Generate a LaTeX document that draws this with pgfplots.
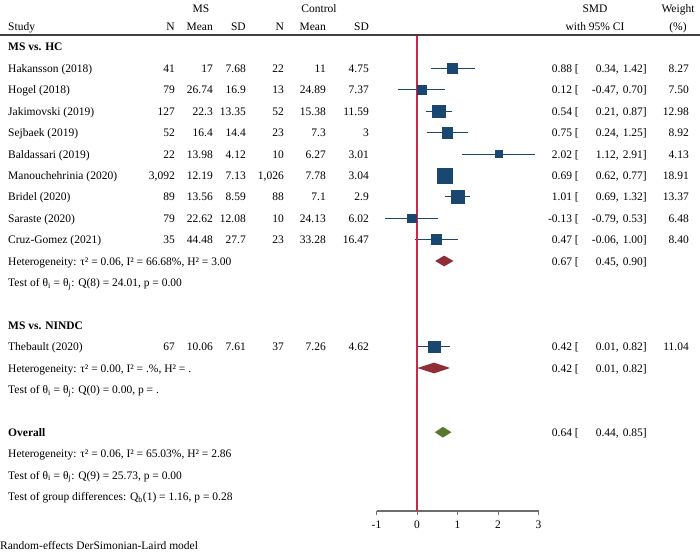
\documentclass[border=0pt]{standalone}
\usepackage{fontspec}
\setmainfont{Liberation Serif}
\usepackage{pgfplots}
\pgfplotsset{compat=1.18}
\usepackage{pgfplotstable}

\definecolor{navyb}{RGB}{26,71,111}
\definecolor{maroonD}{RGB}{144,45,55}
\definecolor{greenD}{RGB}{85,120,45}
\definecolor{nullred}{RGB}{205,40,75}
\definecolor{axisgray}{RGB}{110,110,110}

% row: row position (from top), est, CI, weight (%)
\pgfplotstableread{
row est lo hi w
1 0.88 0.34 1.42 8.27
2 0.12 -0.47 0.70 7.50
3 0.54 0.21 0.87 12.98
4 0.75 0.24 1.25 8.92
5 2.02 1.12 2.91 4.13
6 0.69 0.62 0.77 18.91
7 1.01 0.69 1.32 13.37
8 -0.13 -0.79 0.53 6.48
9 0.47 -0.06 1.00 8.40
14 0.42 0.01 0.82 11.04
}\studies

% text baseline = row centre + 4
\newcommand{\TL}[3]{\node[anchor=base west,inner sep=0pt] at (#1pt,{-(51+21.4*(#2))*1pt}) {#3};}
\newcommand{\TR}[3]{\node[anchor=base east,inner sep=0pt] at (#1pt,{-(51+21.4*(#2))*1pt}) {#3};}
\newcommand{\TC}[3]{\node[anchor=base,inner sep=0pt] at (#1pt,{-(51+21.4*(#2))*1pt}) {#3};}
\newcommand{\studyL}[8]{\TL{8}{#1}{#2}\TR{175}{#1}{#3}\TR{213}{#1}{#4}\TR{246}{#1}{#5}\TR{284}{#1}{#6}\TR{326}{#1}{#7}\TR{369}{#1}{#8}}
\newcommand{\studyR}[5]{\TR{579}{#1}{#2 [}\TR{619}{#1}{#3,}\TR{647}{#1}{#4]}\TR{689}{#1}{#5}}

\begin{document}
\fontsize{11.5}{13}\selectfont
\begin{tikzpicture}
\useasboundingbox (0,0) rectangle (700pt,-551pt);
\begin{axis}[
  at={(376.5pt,-511pt)}, anchor=south west,
  scale only axis, width=162pt, height=476pt,
  xmin=-1, xmax=3, ymin=-21.682, ymax=0.561,
  axis x line*=bottom, hide y axis,
  x axis line style={draw=none},
  xtick={-1,0,1,2,3}, xticklabels={-1,0,1,2,3},
  tick align=outside, major tick length=3.5pt,
  xtick style={draw=axisgray, line width=0.9pt},
  xticklabel style={font=\fontsize{11.5}{13}\selectfont, text=black, inner sep=2pt, yshift=-4pt},
  clip=false,
]
% x axis line
\addplot[color=axisgray, line width=1.5pt, mark=none] coordinates {(-1,-21.682) (3,-21.682)};
% confidence intervals
\addplot[color=navyb, line width=0.9pt, mark=none, unbounded coords=jump] coordinates {
(0.34,-1) (1.42,-1) (nan,nan)
(-0.47,-2) (0.70,-2) (nan,nan)
(0.21,-3) (0.87,-3) (nan,nan)
(0.24,-4) (1.25,-4) (nan,nan)
(1.12,-5) (2.91,-5) (nan,nan)
(0.62,-6) (0.77,-6) (nan,nan)
(0.69,-7) (1.32,-7) (nan,nan)
(-0.79,-8) (0.53,-8) (nan,nan)
(-0.06,-9) (1.00,-9) (nan,nan)
(0.01,-14) (0.82,-14)
};
% study squares, size by weight
\addplot[scatter, only marks, mark=square*,
  scatter/use mapped color={draw=navyb, fill=navyb},
  visualization depends on={1.75*sqrt(\thisrow{w}) \as \msz},
  scatter/@pre marker code/.append style={/tikz/mark size=\msz, /tikz/line width=0pt}]
  table[x=est, y expr=-\thisrow{row}] {\studies};
% subgroup diamonds
\addplot[fill=maroonD, draw=none] coordinates {(0.45,-10) (0.67,-9.75) (0.90,-10) (0.67,-10.25)} -- cycle;
\addplot[fill=maroonD, draw=none] coordinates {(0.01,-15) (0.42,-14.75) (0.82,-15) (0.42,-15.25)} -- cycle;
% overall diamond
\addplot[fill=greenD, draw=none] coordinates {(0.44,-18) (0.64,-17.75) (0.85,-18) (0.64,-18.25)} -- cycle;
% null line
\addplot[color=nullred, line width=1.2pt, mark=none] coordinates {(0,0.561) (0,-21.682)};
\end{axis}

\draw[line width=1.2pt, black!75] (0,-35pt) -- (700pt,-35pt);

% headers
\TC{201}{-1.776}{MS}
\TC{319}{-1.776}{Control}
\TC{595}{-1.776}{SMD}
\TC{678}{-1.776}{Weight}
\TL{8}{-0.981}{Study}
\TR{175}{-0.981}{N}\TR{213}{-0.981}{Mean}\TR{246}{-0.981}{SD}
\TR{284}{-0.981}{N}\TR{326}{-0.981}{Mean}\TR{369}{-0.981}{SD}
\TC{595}{-0.981}{with 95\% CI}
\TC{678}{-0.981}{(\%)}

\TL{8}{0}{\textbf{MS vs. HC}}
\studyL{1}{Hakansson (2018)}{41}{17}{7.68}{22}{11}{4.75}\studyR{1}{0.88}{0.34}{1.42}{8.27}
\studyL{2}{Hogel (2018)}{79}{26.74}{16.9}{13}{24.89}{7.37}\studyR{2}{0.12}{-0.47}{0.70}{7.50}
\studyL{3}{Jakimovski (2019)}{127}{22.3}{13.35}{52}{15.38}{11.59}\studyR{3}{0.54}{0.21}{0.87}{12.98}
\studyL{4}{Sejbaek (2019)}{52}{16.4}{14.4}{23}{7.3}{3}\studyR{4}{0.75}{0.24}{1.25}{8.92}
\studyL{5}{Baldassari (2019)}{22}{13.98}{4.12}{10}{6.27}{3.01}\studyR{5}{2.02}{1.12}{2.91}{4.13}
\studyL{6}{Manouchehrinia (2020)}{3,092}{12.19}{7.13}{1,026}{7.78}{3.04}\studyR{6}{0.69}{0.62}{0.77}{18.91}
\studyL{7}{Bridel (2020)}{89}{13.56}{8.59}{88}{7.1}{2.9}\studyR{7}{1.01}{0.69}{1.32}{13.37}
\studyL{8}{Saraste (2020)}{79}{22.62}{12.08}{10}{24.13}{6.02}\studyR{8}{-0.13}{-0.79}{0.53}{6.48}
\studyL{9}{Cruz-Gomez (2021)}{35}{44.48}{27.7}{23}{33.28}{16.47}\studyR{9}{0.47}{-0.06}{1.00}{8.40}
\TL{8}{10}{Heterogeneity: τ² = 0.06, I² = 66.68\%, H² = 3.00}\studyR{10}{0.67}{0.45}{0.90}{}
\TL{8}{11}{Test of θ\textsubscript{i} = θ\textsubscript{j}: Q(8) = 24.01, p = 0.00}

\TL{8}{13}{\textbf{MS vs. NINDC}}
\studyL{14}{Thebault (2020)}{67}{10.06}{7.61}{37}{7.26}{4.62}\studyR{14}{0.42}{0.01}{0.82}{11.04}
\TL{8}{15}{Heterogeneity: τ² = 0.00, I² = .\%, H² = .}\studyR{15}{0.42}{0.01}{0.82}{}
\TL{8}{16}{Test of θ\textsubscript{i} = θ\textsubscript{j}: Q(0) = 0.00, p = .}

\TL{8}{18}{\textbf{Overall}}\studyR{18}{0.64}{0.44}{0.85}{}
\TL{8}{19}{Heterogeneity: τ² = 0.06, I² = 65.03\%, H² = 2.86}
\TL{8}{20}{Test of θ\textsubscript{i} = θ\textsubscript{j}: Q(9) = 25.73, p = 0.00}
\TL{8}{21}{Test of group differences: Q\textsubscript{b}(1) = 1.16, p = 0.28}

\node[anchor=base west, inner sep=0pt] at (0pt,-549pt) {Random-effects DerSimonian-Laird model};
\end{tikzpicture}
\end{document}
